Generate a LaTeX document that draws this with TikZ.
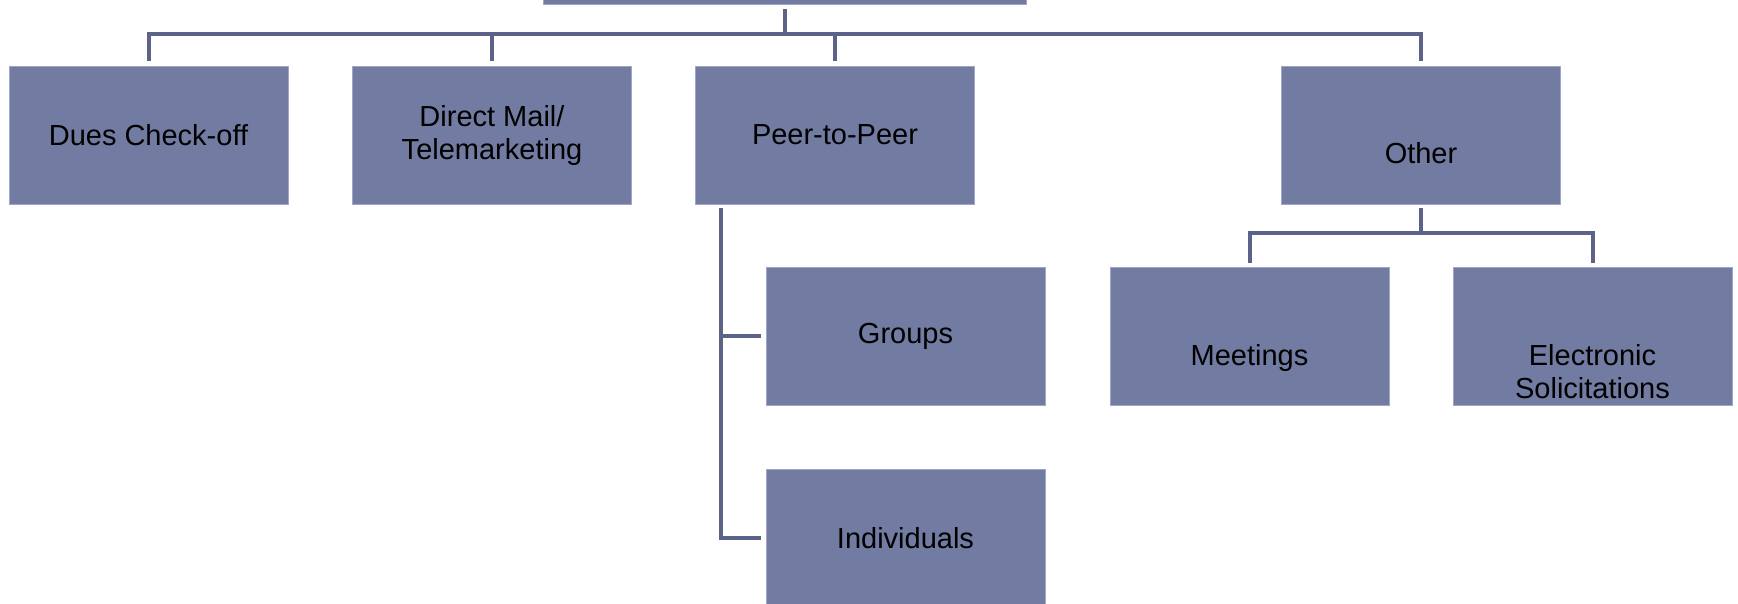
\documentclass[tikz,border=0pt]{standalone}
\usepackage{fontspec}
\setmainfont{Liberation Sans}
\definecolor{boxfill}{RGB}{114,123,161}
\definecolor{boxedge}{RGB}{160,166,196}
\definecolor{linecol}{RGB}{91,100,136}
\begin{document}
\begin{tikzpicture}[x=1pt,y=-1pt,
  box/.style={rectangle,fill=boxfill,draw=boxedge,line width=0.8pt,minimum width=279pt,minimum height=138pt,inner sep=0pt,align=center,font=\fontsize{29}{33}\selectfont,text=black},
  lbl/.style={inner sep=0pt,align=center,font=\fontsize{29}{33}\selectfont,text=black,anchor=north},
  conn/.style={draw=linecol,line width=4pt}]
\useasboundingbox (0,0) rectangle (1738,603);
% boxes
\node[box,minimum width=483pt] (top) at (784.5,-65) {};
\node[box] (dues) at (148.5,135) {Dues Check-off};
\node[box] (mail) at (492,135) {Direct Mail/\\Telemarketing};
\node[box] (peer) at (835,135) {Peer-to-Peer};
\node[box] (other) at (1421,135) {};
\node[box] (groups) at (905.5,336) {Groups};
\node[box] (indiv) at (905.5,538) {Individuals};
\node[box] (meet) at (1249.5,336) {};
\node[box] (elec) at (1592.5,336) {};
\node[lbl] (otherT) at (1421,142.5) {Other};
\node[lbl] (meetT) at (1249.5,344.5) {Meetings};
\node[lbl] (elecT) at (1592.5,344.5) {Electronic\\Solicitations};
% connectors
\draw[conn] ([yshift=-5pt]top.south) -- ([yshift=32pt]top.south |- dues.north);
\draw[conn] ([yshift=5pt]dues.north) |- ([yshift=32pt]other.north) -- ([yshift=5pt]other.north);
\draw[conn] ([yshift=5pt]mail.north) -- ([yshift=32pt]mail.north);
\draw[conn] ([yshift=5pt]peer.north) -- ([yshift=32pt]peer.north);
\draw[conn] ([xshift=25.5pt,yshift=-4pt]peer.south west) |- ([xshift=-5pt]indiv.west);
\draw[conn] ([xshift=-5pt]groups.west) -- ([xshift=25.5pt]peer.south west |- groups.west);
\draw[conn] ([yshift=-4pt]other.south) -- ([yshift=-29pt]other.south);
\draw[conn] ([yshift=4pt]meet.north) |- ([yshift=-29pt]other.south) -| ([yshift=4pt]elec.north);
\end{tikzpicture}
\end{document}
